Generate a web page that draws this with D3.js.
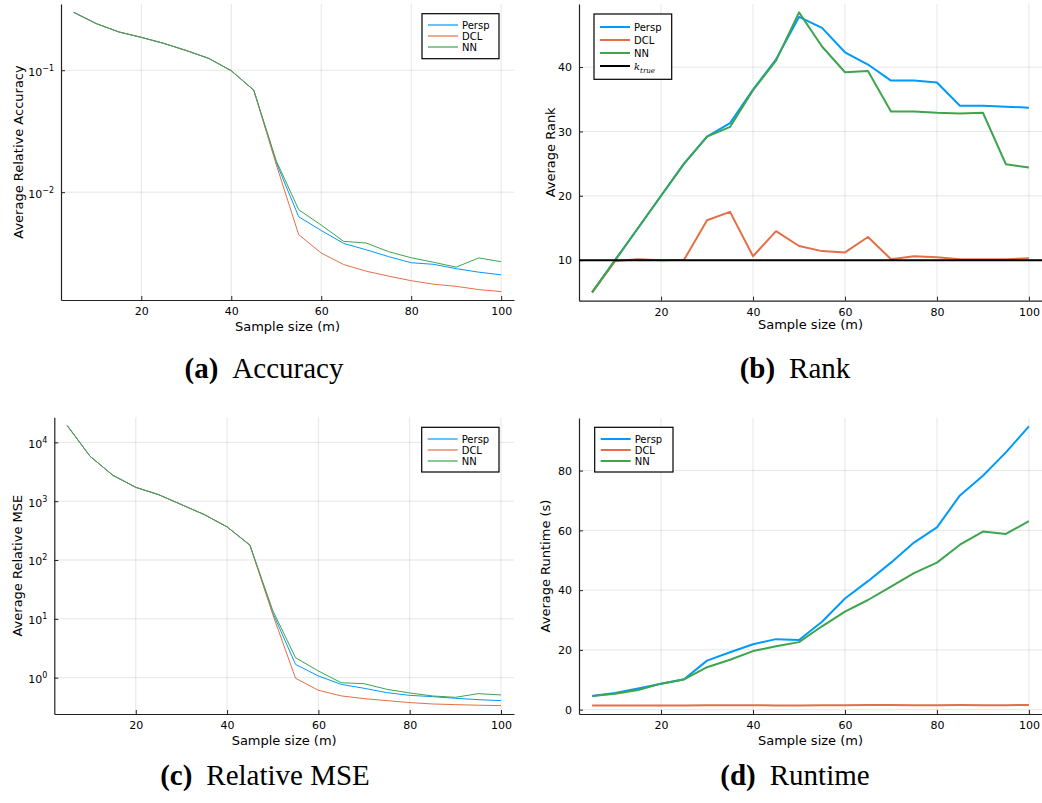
<!DOCTYPE html>
<html><head><meta charset="utf-8">
<script src="https://cdn.jsdelivr.net/npm/d3@7"></script>
<style>
body{margin:0;background:#fff}
svg{display:block}
text{font-family:"DejaVu Sans",sans-serif;fill:#000}
.cap{font-family:"Liberation Serif","DejaVu Serif",serif}
</style>
</head><body><svg id="c" width="1042" height="803"></svg>
<script>
// ---------- data ----------
const sampleSizes = [5,10,15,20,25,30,35,40,45,50,55,60,65,70,75,80,85,90,95,100];
const seriesNames = ["Persp","DCL","NN"];

const accPersp = [0.298,0.241,0.206,0.186,0.166,0.145,0.125,0.099,0.0686,0.0175,0.00628,0.00485,0.00380,0.00337,0.00296,0.00264,0.00256,0.00236,0.00221,0.00210];
const accDCL   = [0.298,0.241,0.206,0.186,0.166,0.145,0.125,0.099,0.0686,0.0168,0.00448,0.00317,0.00255,0.00225,0.00205,0.00188,0.00176,0.00169,0.00159,0.00153];
const accNN    = [0.298,0.241,0.206,0.186,0.166,0.145,0.125,0.099,0.0686,0.0181,0.00718,0.00537,0.00395,0.00383,0.00325,0.00290,0.00266,0.00243,0.00289,0.00269];

const rankPersp = [5.0,10.0,15.0,20.0,25.0,29.2,31.3,36.5,41.2,47.8,46.1,42.3,40.4,37.9,37.9,37.6,34.0,34.0,33.85,33.7];
const rankDCL   = [5.0,9.85,10.15,10.0,10.05,16.2,17.5,10.6,14.5,12.2,11.4,11.2,13.6,10.15,10.6,10.45,10.15,10.15,10.15,10.3];
const rankNN    = [5.0,10.0,15.0,20.0,25.0,29.2,30.7,36.4,41.0,48.5,43.2,39.2,39.4,33.1,33.1,32.9,32.8,32.9,24.9,24.4];
const kTrue = 10;

const msePersp = [19200,5780,2750,1720,1290,875,592,366,179,12.7,1.68,1.07,0.77,0.66,0.556,0.50,0.476,0.446,0.423,0.407];
const mseDCL   = [19200,5780,2750,1720,1290,875,592,366,179,11.9,0.975,0.61,0.49,0.44,0.407,0.377,0.357,0.348,0.340,0.335];
const mseNN    = [19200,5780,2750,1720,1290,875,592,366,179,13.9,2.18,1.30,0.82,0.79,0.634,0.549,0.489,0.463,0.535,0.508];

const rtPersp = [4.56,5.6,7.1,8.7,10.2,16.4,19.2,21.9,23.6,23.3,29.4,37.2,43.0,49.2,55.9,61.0,71.7,78.3,86.1,94.8];
const rtDCL   = [1.35,1.35,1.37,1.4,1.4,1.45,1.45,1.45,1.42,1.4,1.45,1.5,1.55,1.55,1.5,1.5,1.55,1.5,1.5,1.55];
const rtNN    = [4.56,5.3,6.6,8.7,10.1,14.2,16.7,19.6,21.2,22.6,27.9,32.8,36.7,41.2,45.7,49.2,55.2,59.6,58.8,63.1];

const xTickValues = [20,40,60,80,100];
const rankTicks = [10,20,30,40];
const runtimeTicks = [0,20,40,60,80];

// ---------- styles ----------
const colors = ["#009AFA","#E36F47","#3EA44E"];

const svg = d3.select("#c");

function widen(lo, hi){ const s=(hi-lo)*0.03; return [lo-s, hi+s]; }

function supTick(sel, v){
  const e = Math.round(Math.log10(v));
  sel.append("tspan").text("10");
  sel.append("tspan").attr("dy",-5).attr("font-size",8).text(e<0 ? "\u2212"+(-e) : String(e));
}

function panel(cfg){
  const b = cfg.box;
  const g = svg.append("g");
  const x = d3.scaleLinear().domain(widen(d3.min(sampleSizes), d3.max(sampleSizes))).range([b.l, b.r]);
  const all = cfg.series.flat().concat(cfg.extra!=null?[cfg.extra]:[]);
  let y;
  if(cfg.log){
    const [lo,hi] = widen(Math.log10(d3.min(all)), Math.log10(d3.max(all)));
    y = d3.scaleLog().domain([10**lo, 10**hi]).range([b.b, b.t]);
  } else {
    y = d3.scaleLinear().domain(widen(d3.min(all), d3.max(all))).range([b.b, b.t]);
  }
  const yTicks = cfg.log
    ? d3.range(Math.ceil(Math.log10(y.domain()[0])), Math.floor(Math.log10(y.domain()[1]))+1).map(e=>10**e)
    : cfg.yTicks;

  // grid
  g.append("g").selectAll("line").data(xTickValues).join("line")
    .attr("x1",d=>x(d)).attr("x2",d=>x(d)).attr("y1",b.t).attr("y2",b.b)
    .attr("stroke","#000").attr("stroke-opacity",0.1).attr("stroke-width",1);
  g.append("g").selectAll("line").data(yTicks).join("line")
    .attr("x1",b.l).attr("x2",b.r).attr("y1",d=>y(d)).attr("y2",d=>y(d))
    .attr("stroke","#000").attr("stroke-opacity",0.1).attr("stroke-width",1);

  // axes
  const xa = g.append("g").attr("transform",`translate(0,${b.b})`)
    .call(d3.axisBottom(x).tickValues(xTickValues).tickSizeInner(-4).tickSizeOuter(0).tickPadding(0));
  xa.select(".domain").attr("stroke","#222").attr("stroke-width",1.2);
  xa.selectAll(".tick line").attr("stroke","#222");
  xa.selectAll(".tick text").attr("font-size",11).attr("font-family","DejaVu Sans").attr("fill","#222")
    .attr("y", cfg.xTickDy).attr("dy",0);

  const ya = g.append("g").attr("transform",`translate(${b.l},0)`)
    .call(d3.axisLeft(y).tickValues(yTicks).tickSizeInner(-4).tickSizeOuter(0).tickFormat(cfg.log?"":d3.format("d")));
  ya.select(".domain").attr("stroke","#222").attr("stroke-width",1.2);
  ya.selectAll(".tick line").attr("stroke","#222");
  ya.selectAll(".tick text").attr("font-size",11).attr("font-family","DejaVu Sans").attr("fill","#222")
    .attr("x",-7).attr("dy","0.35em");
  if(cfg.log){
    ya.selectAll(".tick text").each(function(d){ d3.select(this).text(""); supTick(d3.select(this), d); })
      .attr("dy","0.45em");
  }
  // restore overall text so tspans stay at baseline
  // axis labels
  g.append("text").attr("x",(b.l+b.r)/2).attr("y",cfg.xLabelY).attr("text-anchor","middle")
    .attr("font-size",13).text("Sample size (m)");
  g.append("text").attr("transform",`translate(${cfg.yLabelX},${(b.t+b.b)/2}) rotate(-90)`)
    .attr("text-anchor","middle").attr("font-size",13).text(cfg.yLabel);

  // lines
  const clipId = "clip"+cfg.id;
  g.append("clipPath").attr("id",clipId).append("rect").attr("x",b.l).attr("y",b.t).attr("width",b.r-b.l).attr("height",b.b-b.t);
  const line = d3.line().x((d,i)=>x(sampleSizes[i])).y(d=>y(d));
  const lg = g.append("g").attr("clip-path",`url(#${clipId})`);
  if(cfg.extra!=null){
    // drawn after series below
  }
  cfg.series.forEach((s,i)=>{
    lg.append("path").attr("d",line(s)).attr("fill","none").attr("stroke",colors[i])
      .attr("stroke-width",cfg.lw).attr("stroke-linejoin","round");
  });
  if(cfg.extra!=null){
    lg.append("line").attr("x1",b.l).attr("x2",b.r).attr("y1",y(cfg.extra)).attr("y2",y(cfg.extra))
      .attr("stroke","#000").attr("stroke-width",2);
  }

  // legend
  const L = cfg.legend;
  const entries = seriesNames.map((n,i)=>({name:n,color:colors[i]}));
  if(cfg.extra!=null) entries.push({name:"k",color:"#000",math:true});
  const lgd = g.append("g");
  lgd.append("rect").attr("x",L.x).attr("y",L.y).attr("width",L.w).attr("height",L.h)
    .attr("fill","#fff").attr("stroke","#000").attr("stroke-width",1.2);
  entries.forEach((e,i)=>{
    const yy = L.y + L.first + i*L.step;
    lgd.append("line").attr("x1",L.x+6).attr("x2",L.x+36).attr("y1",yy).attr("y2",yy)
      .attr("stroke",e.color).attr("stroke-width",cfg.lw===1?1.2:2);
    const t = lgd.append("text").attr("x",L.x+40).attr("y",yy).attr("dy","0.35em").attr("font-size",10);
    if(e.math){
      t.attr("fill","#555");
      t.append("tspan").attr("font-family","DejaVu Serif").attr("font-style","italic").text("k");
      t.append("tspan").attr("font-family","DejaVu Serif").attr("font-style","italic").attr("font-size",7).attr("dy",3).text("true");
    } else t.text(e.name);
  });

  // caption
  const cap = svg.append("text").attr("class","cap").attr("x",cfg.capX).attr("y",cfg.capY)
    .attr("text-anchor","middle").attr("font-size",29);
  cap.append("tspan").attr("font-weight","bold").text("("+cfg.letter+")");
  cap.append("tspan").attr("dx",14).text(cfg.caption);
}

panel({id:"a", letter:"a", caption:"Accuracy", log:true,
  box:{l:61,r:514,t:4,b:300}, series:[accPersp,accDCL,accNN], lw:1,
  yLabel:"Average Relative Accuracy", yLabelX:23, xLabelY:331, xTickDy:15,
  legend:{x:422,y:13.7,w:77,h:45,first:11.3,step:11}, capX:264, capY:378});

panel({id:"b", letter:"b", caption:"Rank", log:false, yTicks:rankTicks,
  box:{l:579,r:1042,t:4,b:300.7}, series:[rankPersp,rankDCL,rankNN], extra:kTrue, lw:2,
  yLabel:"Average Rank", yLabelX:555, xLabelY:329, xTickDy:15,
  legend:{x:594,y:14,w:77.7,h:65.3,first:13,step:13}, capX:795, capY:378});

panel({id:"c", letter:"c", caption:"Relative MSE", log:true,
  box:{l:54.3,r:514,t:417.3,b:714}, series:[msePersp,mseDCL,mseNN], lw:1,
  yLabel:"Average Relative MSE", yLabelX:22, xLabelY:745, xTickDy:15,
  legend:{x:421.7,y:427.3,w:77.3,h:44.7,first:11.7,step:11}, capX:265, capY:785});

panel({id:"d", letter:"d", caption:"Runtime", log:false, yTicks:runtimeTicks,
  box:{l:579,r:1042,t:418,b:714}, series:[rtPersp,rtDCL,rtNN], lw:2,
  yLabel:"Average Runtime (s)", yLabelX:550, xLabelY:745, xTickDy:15,
  legend:{x:594.7,y:427.3,w:78.3,h:44.7,first:11.7,step:11}, capX:795, capY:785});
</script>
</body></html>
